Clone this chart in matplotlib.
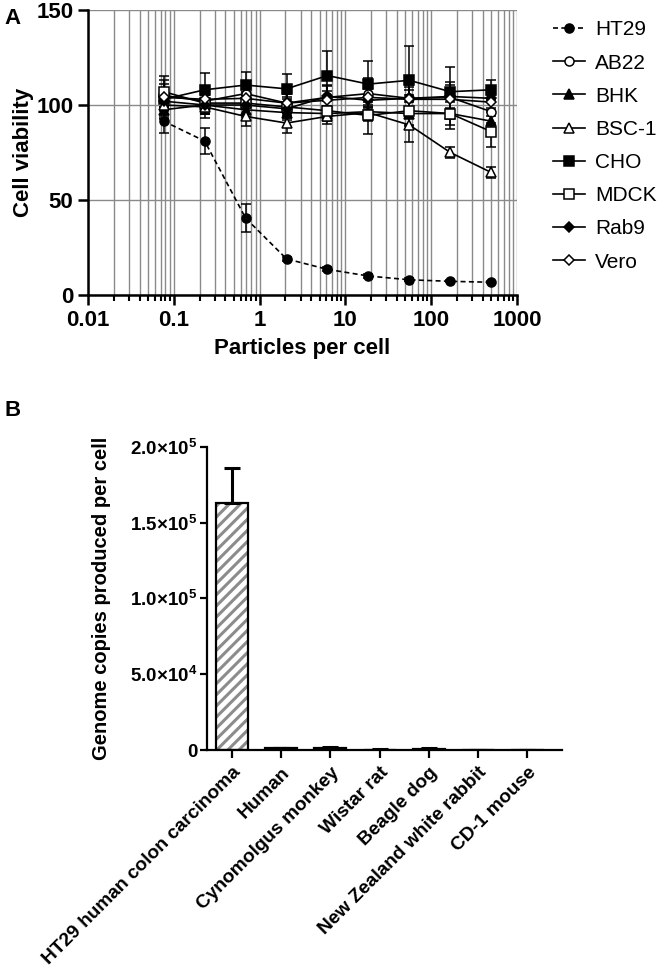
import matplotlib
matplotlib.use('Agg')
import matplotlib.pyplot as plt
import numpy as np

plt.rcParams['font.family'] = ['Liberation Sans', 'DejaVu Sans']
plt.rcParams['mathtext.default'] = 'regular'
plt.rcParams['hatch.linewidth'] = 2.2

#%% <data panel A>
particles = [0.0762, 0.229, 0.686, 2.06, 6.17, 18.5, 55.6, 167, 500]

ht29 = [91.5, 81, 40.5, 19, 13.5, 10, 8, 7.2, 6.7]
ht29_err = [6, 7, 7.5, 1, 1, 0.8, 0.8, 0.6, 0.6]
ab22 = [105, 102, 106, 101, 104, 106, 103.5, 104, 96.5]
ab22_err = [6, 6, 5, 5, 6, 8, 7, 8, 6]
bhk = [97.5, 100, 97.5, 96, 95.5, 96.5, 95.5, 95.5, 91.5]
bhk_err = [5, 5, 4, 4, 4, 5, 6, 6, 5]
bsc1 = [100, 99, 94, 90.5, 94, 96, 89.5, 75, 64.5]
bsc1_err = [6, 6, 5, 5, 4, 4, 9, 3, 3]
cho = [103, 108, 110.5, 108.5, 115.5, 111, 113, 107, 108]
cho_err = [10, 9, 7, 8, 13, 12, 18, 13, 5]
mdck = [107, 101, 101, 99, 97, 94.5, 97, 95.5, 86]
mdck_err = [8, 6, 6, 5, 5, 10, 8, 8, 8]
rab9 = [102, 100, 100, 98, 104.5, 102.5, 103.5, 104.5, 103.5]
rab9_err = [5, 5, 5, 5, 6, 6, 6, 6, 5]
vero = [104, 103, 103.5, 101, 102.5, 104, 103, 103, 101.5]
vero_err = [5, 5, 5, 5, 5, 5, 5, 5, 4]

#%% <data panel B>
species = ['HT29 human colon carcinoma', 'Human', 'Cynomolgus monkey',
           'Wistar rat', 'Beagle dog', 'New Zealand white rabbit', 'CD-1 mouse']
copies = [162700, 1200, 1500, 300, 800, 200, 200]
copies_err = [23300, 300, 400, 100, 300, 100, 100]

#%% <figure>
fig = plt.figure(figsize=(6.64, 9.72), dpi=100)
axA = fig.add_axes([88/664, 1-295/972, (517-88)/664, (295-10)/972])
axB = fig.add_axes([207/664, 1-750/972, (562-207)/664, (750-446.7)/972])

series = [
    ('HT29', ht29, ht29_err, 'o', 'k', (0, (3, 2))),
    ('AB22', ab22, ab22_err, 'o', 'w', '-'),
    ('BHK', bhk, bhk_err, '^', 'k', '-'),
    ('BSC-1', bsc1, bsc1_err, '^', 'w', '-'),
    ('CHO', cho, cho_err, 's', 'k', '-'),
    ('MDCK', mdck, mdck_err, 's', 'w', '-'),
    ('Rab9', rab9, rab9_err, 'D', 'k', '-'),
    ('Vero', vero, vero_err, 'D', 'w', '-'),
]
for name, y, err, mk, fc, ls in series:
    ms = 5 if mk == 'D' else 6.5
    axA.errorbar(particles, y, yerr=err, fmt='none', ecolor='k',
                 elinewidth=1.1, capsize=3.5, capthick=1.1, zorder=3)
    axA.plot(particles, y, color='k', ls=ls, lw=1.2, marker=mk, ms=ms,
             mfc=fc, mec='k', mew=1.1, label=name, zorder=4)

axA.set_xscale('log')
axA.set_xlim(0.01, 1000)
axA.set_ylim(0, 150)
axA.set_yticks([0, 50, 100, 150])
axA.set_xticks([0.01, 0.1, 1, 10, 100, 1000])
axA.set_xticklabels(['0.01', '0.1', '1', '10', '100', '1000'])
axA.grid(True, which='major', color='#8a8a8a', lw=1, zorder=0)
axA.grid(True, which='minor', axis='x', color='#8a8a8a', lw=1, zorder=0)
axA.set_axisbelow(True)
for s in ['top', 'right']:
    axA.spines[s].set_visible(False)
for s in ['left', 'bottom']:
    axA.spines[s].set_linewidth(1.8)
axA.tick_params(which='major', length=7, width=1.8, labelsize=16)
axA.tick_params(which='minor', length=4, width=1.5)
for lab in axA.get_xticklabels() + axA.get_yticklabels():
    lab.set_fontweight('bold')
axA.set_xlabel('Particles per cell', fontsize=16, fontweight='bold', labelpad=5)
axA.set_ylabel('Cell viability', fontsize=16, fontweight='bold', labelpad=2)

fig.legend(*axA.get_legend_handles_labels(), loc='upper left',
           bbox_to_anchor=(543/664, 1-10/972), frameon=False, fontsize=15,
           handlelength=1.5, handletextpad=0.5, labelspacing=0.68, borderpad=0)

#%% <panel B>
pos = np.arange(len(species))
axB.bar(pos, copies, width=0.65, color='white', edgecolor='#8c8c8c',
        hatch='///', lw=0, zorder=2)
axB.bar(pos, copies, width=0.65, color='none', edgecolor='k', lw=1.6, zorder=3)
axB.errorbar(pos, copies, yerr=[np.zeros(len(copies)), copies_err], fmt='none',
             ecolor='k', elinewidth=2.2, capsize=6, capthick=2.2, zorder=4)
axB.set_xlim(-0.5, 6.7)
axB.set_ylim(0, 200000)
yt = [0, 50000, 100000, 150000, 200000]
axB.set_yticks(yt)
axB.set_yticklabels(['0', '5.0×10$^{4}$', '1.0×10$^{5}$', '1.5×10$^{5}$', '2.0×10$^{5}$'],
                    fontweight='bold', fontsize=13.5)
axB.set_xticks(pos)
axB.set_xticklabels(species, rotation=45, ha='right', rotation_mode='anchor',
                    fontweight='bold', fontsize=13.8)
for s in ['top', 'right']:
    axB.spines[s].set_visible(False)
for s in ['left', 'bottom']:
    axB.spines[s].set_linewidth(1.6)
axB.tick_params(axis='y', length=5, width=1.6, pad=2)
axB.tick_params(axis='x', length=6, width=1.6, pad=4)
axB.set_ylabel('Genome copies produced per cell', fontsize=14.5, fontweight='bold', labelpad=14)

fig.text(4/664, 1-18/972, 'A', fontsize=16, fontweight='bold', va='center')
fig.text(4/664, 1-411/972, 'B', fontsize=16, fontweight='bold', va='center')

fig.savefig('out.png', dpi=100)
